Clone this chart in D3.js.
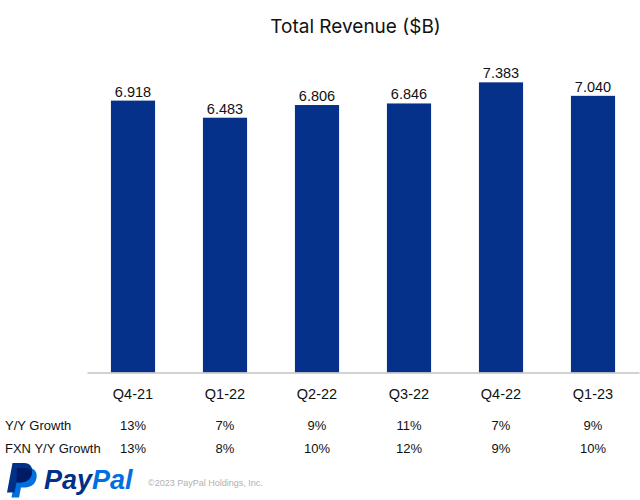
<!DOCTYPE html>
<html>
<head>
<meta charset="utf-8">
<script src="https://cdn.jsdelivr.net/npm/d3@7"></script>
<style>
  html, body { margin: 0; padding: 0; background: #fff; }
  svg { display: block; }
</style>
</head>
<body>
<svg id="chart" width="640" height="500"></svg>
<script>
const quarters = ["Q4-21", "Q1-22", "Q2-22", "Q3-22", "Q4-22", "Q1-23"];
const revenue = [6.918, 6.483, 6.806, 6.846, 7.383, 7.040];
const revenueLabels = ["6.918", "6.483", "6.806", "6.846", "7.383", "7.040"];
const yoyGrowth = ["13%", "7%", "9%", "11%", "7%", "9%"];
const fxnGrowth = ["13%", "8%", "10%", "12%", "9%", "10%"];
const rowLabels = ["Y/Y Growth", "FXN Y/Y Growth"];
const titleText = "Total Revenue ($B)";
const copyright = "\u00A92023 PayPal Holdings, Inc.";

const svg = d3.select("#chart");
const sans = "'Liberation Sans', Arial, Helvetica, sans-serif";

const x = d3.scaleBand().domain(quarters).range([87, 639])
  .paddingInner(0.52).paddingOuter(0.26);
const y = d3.scaleLinear().domain([0, 8]).range([372.5, 58.1]);

// Title
svg.append("text")
  .attr("x", 355.5).attr("y", 32.5)
  .attr("text-anchor", "middle")
  .attr("font-family", "Inter, 'Liberation Sans', sans-serif")
  .attr("font-size", 19)
  .attr("fill", "#111")
  .text(titleText);

// Bars
svg.append("g").selectAll("rect").data(revenue).join("rect")
  .attr("x", (d, i) => x(quarters[i]))
  .attr("width", x.bandwidth())
  .attr("y", d => y(d))
  .attr("height", d => y(0) - y(d))
  .attr("fill", "#06318a");

// Value labels
svg.append("g").selectAll("text").data(revenue).join("text")
  .attr("x", (d, i) => x(quarters[i]) + x.bandwidth() / 2)
  .attr("y", d => y(d) - 4)
  .attr("text-anchor", "middle")
  .attr("font-family", sans)
  .attr("font-size", 14.5)
  .attr("fill", "#111")
  .text((d, i) => revenueLabels[i]);

// X axis
const ax = svg.append("g")
  .attr("transform", `translate(0,${y(0)})`)
  .call(d3.axisBottom(x).tickSize(0).tickSizeOuter(0).tickPadding(16));
ax.select(".domain").attr("stroke", "#c3c3c3").attr("stroke-width", 1.5);
ax.selectAll(".tick text")
  .attr("font-family", sans)
  .attr("font-size", 14.5)
  .attr("fill", "#111");

// Growth table
const rows = [yoyGrowth, fxnGrowth];
const rowY = [430, 453];
rows.forEach((vals, r) => {
  svg.append("text")
    .attr("x", 5).attr("y", rowY[r])
    .attr("font-family", sans)
    .attr("font-size", 13)
    .attr("fill", "#111")
    .text(rowLabels[r]);
  svg.append("g").selectAll("text").data(vals).join("text")
    .attr("x", (d, i) => x(quarters[i]) + x.bandwidth() / 2)
    .attr("y", rowY[r])
    .attr("text-anchor", "middle")
    .attr("font-family", sans)
    .attr("font-size", 13)
    .attr("fill", "#111")
    .text(d => d);
});

// PayPal logo mark
const logo = svg.append("g");
const pPath = "M12.5 463 L24 463 C30.5 463 33 467.5 32 473 C31 479 26.5 482.5 20.5 482.5 L16.5 482.5 L14.5 492.5 L7 492.5 Z";
logo.append("path").attr("d", pPath).attr("transform", "translate(4.5,5)").attr("fill", "#0070e0");
logo.append("path").attr("d", pPath).attr("fill", "#003087");
logo.append("path")
  .attr("d", "M17 468 L24 468 C30.5 468 33 472 32 473 C31 479 26.5 482.5 20.5 482.5 L16.5 482.5 Z")
  .attr("fill", "#001c64");

// Wordmark
const wm = svg.append("text")
  .attr("x", 44).attr("y", 489)
  .attr("font-family", sans)
  .attr("font-size", 27)
  .attr("font-weight", "bold")
  .attr("font-style", "italic");
wm.append("tspan").attr("fill", "#003087").text("Pay");
wm.append("tspan").attr("fill", "#0070e0").text("Pal");

svg.append("text")
  .attr("x", 148).attr("y", 486)
  .attr("font-family", sans)
  .attr("font-size", 9)
  .attr("fill", "#b0b0b0")
  .text(copyright);
</script>
</body>
</html>
